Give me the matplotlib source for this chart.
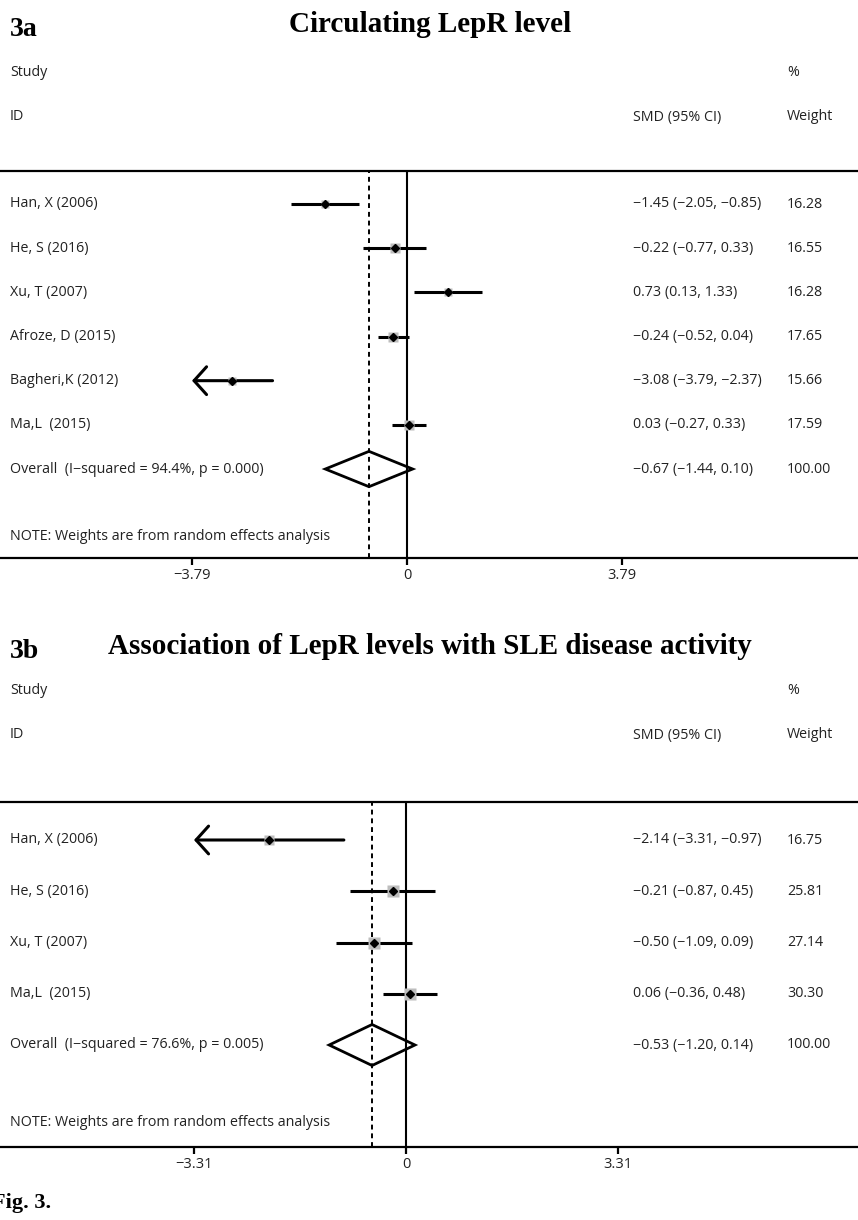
import matplotlib.pyplot as plt
import numpy as np
from matplotlib.patches import Polygon

# ---- data: panel 3a ----
a_studies = ["Han, X (2006)", "He, S (2016)", "Xu, T (2007)", "Afroze, D (2015)",
             "Bagheri,K (2012)", "Ma,L  (2015)"]
a_smd = [-1.45, -0.22, 0.73, -0.24, -3.08, 0.03]
a_lo = [-2.05, -0.77, 0.13, -0.52, -3.79, -0.27]
a_hi = [-0.85, 0.33, 1.33, 0.04, -2.37, 0.33]
a_weight = [16.28, 16.55, 16.28, 17.65, 15.66, 17.59]
a_overall = (-0.67, -1.44, 0.10)
a_overall_label = "Overall  (I\u2212squared = 94.4%, p = 0.000)"
a_limit = 3.79

# ---- data: panel 3b ----
b_studies = ["Han, X (2006)", "He, S (2016)", "Xu, T (2007)", "Ma,L  (2015)"]
b_smd = [-2.14, -0.21, -0.50, 0.06]
b_lo = [-3.31, -0.87, -1.09, -0.36]
b_hi = [-0.97, 0.45, 0.09, 0.48]
b_weight = [16.75, 25.81, 27.14, 30.30]
b_overall = (-0.53, -1.20, 0.14)
b_overall_label = "Overall  (I\u2212squared = 76.6%, p = 0.005)"
b_limit = 3.31

W, H = 858, 1220
SANS = ["Open Sans", "DejaVu Sans"]
SERIF = ["Liberation Serif", "DejaVu Serif"]
TXT = "#222222"
FS = 10.3

fig = plt.figure(figsize=(W / 100, H / 100), dpi=100)


def fx(px):
    return px / W


def fy(py):
    return 1 - py / H


def fmt(v):
    return f"{v:.2f}".replace("-", "\u2212")


def draw_panel(tag, title, studies, smd, lo, hi, weight, overall, overall_label, limit,
               y_title, y_head, y_line, y_first, step, y_note, y_axis, x_zero, px_unit):
    # header texts
    fig.text(fx(10), fy(y_title + 5), tag, family=SERIF, fontweight="bold", fontsize=20,
             va="center", ha="left")
    fig.text(fx(430), fy(y_title), title, family=SERIF, fontweight="bold", fontsize=21,
             va="center", ha="center")
    fig.text(fx(10), fy(y_head), "Study", family=SANS, fontsize=FS, color=TXT, va="center")
    fig.text(fx(10), fy(y_head + 45), "ID", family=SANS, fontsize=FS, color=TXT, va="center")
    fig.text(fx(787), fy(y_head), "%", family=SANS, fontsize=FS, color=TXT, va="center")
    fig.text(fx(633), fy(y_head + 45), "SMD (95% CI)", family=SANS, fontsize=FS, color=TXT,
             va="center")
    fig.text(fx(787), fy(y_head + 45), "Weight", family=SANS, fontsize=FS, color=TXT,
             va="center")

    ax = fig.add_axes([0, fy(y_axis), 1, (y_axis - y_line) / H])
    ax.set_xlim(-x_zero / px_unit, (W - x_zero) / px_unit)
    ax.set_ylim((y_axis - y_first) / step, (y_line - y_first) / step)
    for s in ["left", "right"]:
        ax.spines[s].set_visible(False)
    ax.spines["top"].set_linewidth(1.6)
    ax.spines["bottom"].set_linewidth(1.6)
    ax.set_yticks([])
    ax.set_xticks([-limit, 0, limit])
    ax.set_xticklabels([fmt(-limit), "0", f"{limit:.2f}"], family=SANS, fontsize=10.5,
                       color=TXT)
    ax.tick_params(axis="x", direction="out", length=5, width=1.6, pad=2)

    ax.axvline(0, color="black", lw=1.5, zorder=1)
    ax.axvline(overall[0], color="black", lw=1.4, ls=(0, (2.5, 2)), zorder=1)

    tr = ax.get_yaxis_transform()
    rows = np.arange(len(studies))
    for i, (name, m, l, h, w) in enumerate(zip(studies, smd, lo, hi, weight)):
        y = rows[i]
        if l <= -limit:
            ax.annotate("", xy=(-limit, y), xytext=(h, y),
                        arrowprops=dict(arrowstyle="->,head_length=0.45,head_width=0.5",
                                        lw=2.2, color="black", mutation_scale=20,
                                        shrinkA=0, shrinkB=0))
        else:
            ax.plot([l, h], [y, y], color="black", lw=2.2, solid_capstyle="butt", zorder=2)
        ax.plot(m, y, marker="s", ms=1.6 * np.sqrt(w), color="#bdbdbd", mec="none", zorder=3)
        ax.plot(m, y, marker="D", ms=4.5, color="black", zorder=4)
        ax.text(fx(10), y, name, transform=tr, family=SANS, fontsize=FS, color=TXT,
                va="center")
        ax.text(fx(633), y, f"{fmt(m)} ({fmt(l)}, {fmt(h)})", transform=tr, family=SANS,
                fontsize=FS, color=TXT, va="center")
        ax.text(fx(787), y, f"{w:.2f}", transform=tr, family=SANS, fontsize=FS, color=TXT,
                va="center")

    yo = len(studies)
    est, olo, ohi = overall
    dh = 0.4
    ax.add_patch(Polygon([(olo, yo), (est, yo - dh), (ohi, yo), (est, yo + dh)],
                         closed=True, fill=False, ec="black", lw=2.0, zorder=5))
    ax.text(fx(10), yo, overall_label, transform=tr, family=SANS, fontsize=FS, color=TXT,
            va="center")
    ax.text(fx(633), yo, f"{fmt(est)} ({fmt(olo)}, {fmt(ohi)})", transform=tr, family=SANS,
            fontsize=FS, color=TXT, va="center")
    ax.text(fx(787), yo, "100.00", transform=tr, family=SANS, fontsize=FS, color=TXT,
            va="center")
    ax.text(fx(10), (y_note - y_first) / step, "NOTE: Weights are from random effects analysis",
            transform=tr, family=SANS, fontsize=FS, color=TXT, va="center")
    return ax


draw_panel("3a", "Circulating LepR level", a_studies, a_smd, a_lo, a_hi, a_weight,
           a_overall, a_overall_label, a_limit,
           y_title=24, y_head=72, y_line=171, y_first=204, step=44.17, y_note=537, y_axis=558,
           x_zero=407, px_unit=215 / 3.79)

draw_panel("3b", "Association of LepR levels with SLE disease activity", b_studies, b_smd,
           b_lo, b_hi, b_weight, b_overall, b_overall_label, b_limit,
           y_title=646, y_head=690, y_line=802, y_first=840, step=51.25, y_note=1123,
           y_axis=1147, x_zero=406, px_unit=212 / 3.31)

fig.text(fx(-8), fy(1203), "Fig. 3.", family=SERIF, fontweight="bold", fontsize=16,
         va="center", ha="left")

fig.savefig("out.png", dpi=100)
